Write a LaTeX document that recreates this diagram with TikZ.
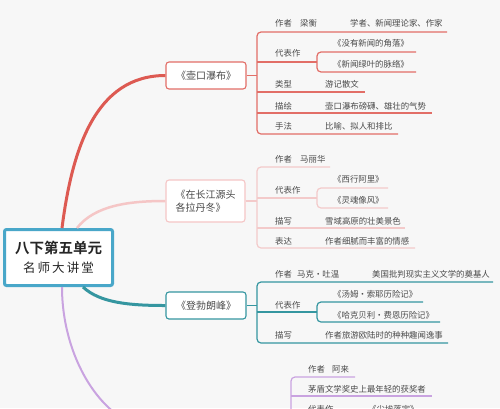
\documentclass[tikz,border=0pt]{standalone}
\usepackage{fontspec}
\setmainfont{Noto Sans CJK SC}[BoldFont={* Bold}]
\definecolor{bg}{HTML}{F7F7F7}
\definecolor{txt}{HTML}{4A4A4A}
\definecolor{redm}{HTML}{DD5A52}
\definecolor{redl}{HTML}{E26E67}
\definecolor{pinkm}{HTML}{F5C6C6}
\definecolor{pinkl}{HTML}{F3CACA}
\definecolor{tealm}{HTML}{3596A0}
\definecolor{rootc}{HTML}{49A7C9}
\definecolor{purm}{HTML}{C9A3E0}
\begin{document}
\begin{tikzpicture}[x=1pt,y=-1pt,
  lab/.style={anchor=west,inner sep=0pt,font=\fontsize{8.4}{9}\selectfont,text=txt},
  rootbox/.style={draw=rootc,line width=3pt,fill=white,rounded corners=2pt,minimum width=108pt,minimum height=56pt,align=center,text=black!85,inner sep=0pt,font=\fontsize{14.5}{19}\selectfont},
  topic/.style={draw=#1,line width=1.1pt,fill=white,rounded corners=3pt,minimum width=80pt,minimum height=27pt,inner sep=2pt,font=\fontsize{10}{13}\selectfont,text=txt},
  sub/.style={draw=#1,line width=1.2pt,rounded corners=4pt},
  main/.style={draw=#1,line width=3pt}]
\useasboundingbox (0,0) rectangle (500,408);
\fill[bg] (0,0) rectangle (500,408);
\clip (0,0) rectangle (500,408);

% root and topics
\node[rootbox] (root) at (58.5,257.5) {{\bfseries 八下第五单元}\\{\fontsize{12.5}{16}\selectfont 名\,师\,大\,讲\,堂}};
\node[topic=redl] (b1) at (206,75.5) {《壶口瀑布》};
\node[topic=pinkm,minimum width=79pt,minimum height=42pt,align=left] (b2) at (205.5,201) {《在长江源头\\各拉丹冬》};
\node[topic=tealm] (b3) at (206,305.5) {《登勃朗峰》};
\coordinate (b4) at (166,432);

% main connectors
\draw[main=redm] ([xshift=3.5pt]root.north) .. controls (72,150) and (95,75.5) .. (b1.west);
\draw[main=pinkm,line width=2.5pt] ([xshift=18.5pt]root.north) .. controls (95,205) and (130,201) .. (b2.west);
\draw[main=tealm] ([xshift=24.5pt]root.south) .. controls (100,303) and (130,305.5) .. (b3.west);
\draw[main=purm,line width=2pt] ([xshift=3.5pt]root.south) .. controls (62,360) and (105,432) .. (b4);

% ---- branch 1
\coordinate (k1) at (257,75.5);
\draw[sub=redl] (b1.east) -- (k1);
\draw[sub=redl] (447,32) -- (257,32) -- (257,134) -- (398,134);
\draw[sub=redl] (257,62) -- (317,62);
\draw[sub=redl] (257,92) -- (365,92);
\draw[sub=redl] (257,113) -- (432,113);
\draw[sub=redl] (416,52) -- (317,52) -- (317,72) -- (416,72);
\node[lab] (t11) at (275,23) {作者};
\node[lab] (t12) at (300,23) {梁衡};
\node[lab] (t13) at (350,23) {学者、新闻理论家、作家};
\node[lab] (t14) at (275,53) {代表作};
\node[lab] (t15) at (333,43) {《没有新闻的角落》};
\node[lab] (t16) at (333,64) {《新闻绿叶的脉络》};
\node[lab] (t17) at (275,84) {类型};
\node[lab] (t18) at (325,84) {游记散文};
\node[lab] (t19) at (275,106) {描绘};
\node[lab] (t1a) at (325,106) {壶口瀑布磅礴、雄壮的气势};
\node[lab] (t1b) at (275,126) {手法};
\node[lab] (t1c) at (325,126) {比喻、拟人和排比};

% ---- branch 2
\coordinate (k2) at (257,201);
\draw[sub=pinkl] (b2.east) -- (k2);
\draw[sub=pinkl] (330,167) -- (257,167) -- (257,248) -- (415,248);
\draw[sub=pinkl] (257,198) -- (317,198);
\draw[sub=pinkl] (257,228) -- (405,228);
\draw[sub=pinkl] (388,188) -- (317,188) -- (317,208) -- (388,208);
\node[lab] (t21) at (275,159) {作者};
\node[lab] (t22) at (300,159) {马丽华};
\node[lab] (t23) at (275,190) {代表作};
\node[lab] (t24) at (333,179) {《西行阿里》};
\node[lab] (t25) at (333,200) {《灵魂像风》};
\node[lab] (t26) at (275,221) {描写};
\node[lab] (t27) at (325,221) {雪域高原的壮美景色};
\node[lab] (t28) at (275,241) {表达};
\node[lab] (t29) at (325,241) {作者细腻而丰富的情感};

% ---- branch 3
\coordinate (k3) at (257,305.5);
\draw[sub=tealm] (b3.east) -- (k3);
\draw[sub=tealm] (493,282) -- (257,282) -- (257,343) -- (448,343);
\draw[sub=tealm] (257,312) -- (317,312);
\draw[sub=tealm] (423,302) -- (317,302) -- (317,322) -- (440,322);
\node[lab] (t31) at (275,274) {作者};
\node[lab] (t32) at (297,274) {马克·吐温};
\node[lab] (t33) at (372,274) {美国批判现实主义文学的奠基人};
\node[lab] (t34) at (275,305) {代表作};
\node[lab] (t35) at (333,294) {《汤姆·索耶历险记》};
\node[lab] (t36) at (333,315) {《哈克贝利·费恩历险记》};
\node[lab] (t37) at (275,335) {描写};
\node[lab] (t38) at (325,335) {作者旅游欧陆时的种种趣闻逸事};

% ---- branch 4
\draw[sub=purm] (355,377) -- (291,377) -- (291,430);
\draw[sub=purm] (291,396) -- (432,396);
\node[lab] (t41) at (308,369.5) {作者};
\node[lab] (t42) at (332,369.5) {阿来};
\node[lab] (t43) at (308,389) {茅盾文学奖史上最年轻的获奖者};
\node[lab] (t44) at (308,409) {代表作};
\node[lab] (t45) at (368,409) {《尘埃落定》};
\end{tikzpicture}
\end{document}
